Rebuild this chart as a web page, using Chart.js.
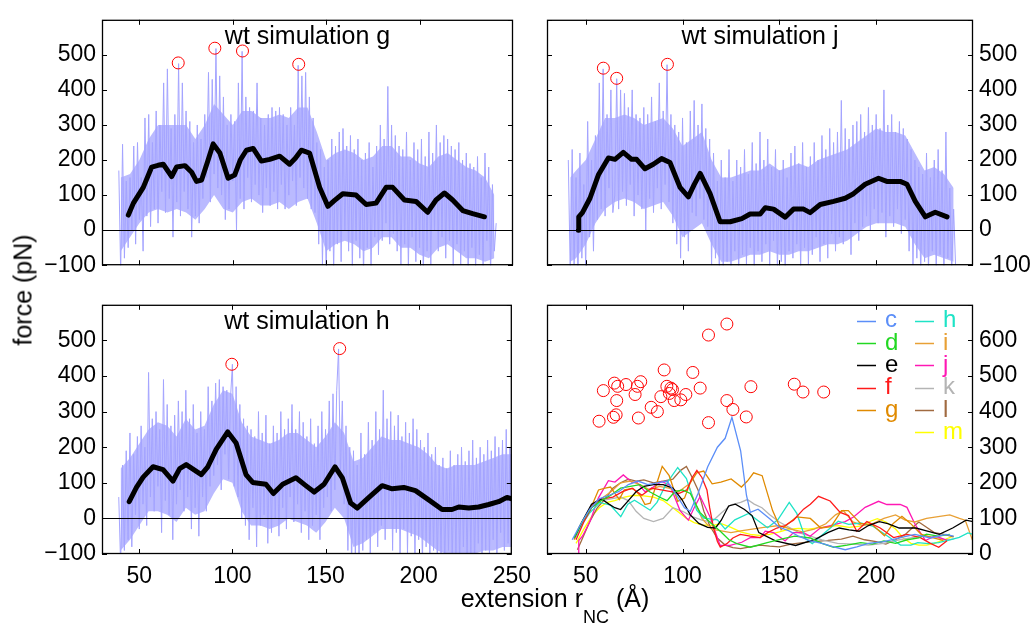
<!DOCTYPE html>
<html>
<head>
<meta charset="utf-8">
<script src="https://cdn.jsdelivr.net/npm/chart.js"></script>
<style>
  body { margin: 0; background: #fff; width: 1034px; height: 625px; position: relative; overflow: hidden;
         font-family: "Liberation Sans", Arial, sans-serif; color: #000; }
  canvas { position: absolute; }
  #ylab { position: absolute; left: 23px; top: 290px; transform: translate(-50%, -50%) rotate(-90deg);
          font-size: 25px; white-space: nowrap; line-height: 1; }
  #xlab { position: absolute; left: 555px; top: 586px; transform: translateX(-50%);
          font-size: 25px; white-space: nowrap; line-height: 25px; }
  #xlab span { font-size: 18px; position: relative; top: 16px; }
</style>
</head>
<body>
<canvas id="cG" width="530" height="285" style="left:0;top:0"></canvas>
<canvas id="cJ" width="504" height="285" style="left:530px;top:0"></canvas>
<canvas id="cH" width="540" height="315" style="left:0;top:285px"></canvas>
<canvas id="cAll" width="504" height="315" style="left:530px;top:285px"></canvas>
<div id="ylab">force (pN)</div>
<div id="xlab">extension r<span>NC</span> (Å)</div>
<script>
// raw force traces, one sample per Å of extension starting at the given value
const noiseGStart = 39;
const noiseG = [
  170, -120, 245, -80, 140, -50, 150, 0, 240, -40,
  250, 30, 150, -60, 320, 40, 330, 10, 250, 60,
  340, 20, 300, 110, 420, 50, 460, 90, 290, -20,
  330, 80, 475, 40, 420, 110, 340, 60, 310, -20,
  250, 40, 300, 20, 260, 90, 330, 150, 450, 80,
  430, 160, 518, 120, 440, 100, 380, 30, 300, 60,
  330, 140, 310, 0, 420, 90, 510, 60, 380, 150,
  350, 80, 340, 130, 420, 100, 320, 50, 300, 120,
  330, 70, 350, 110, 340, 60, 350, 130, 330, 60,
  300, 100, 350, 140, 300, 70, 470, 150, 440, 120,
  450, 90, 380, 60, 320, 50, 250, -40, 230, -100,
  180, -130, 200, -60, 260, -120, 240, -40, 280, -90,
  290, 0, 240, -60, 270, -110, 230, -30, 260, -80,
  200, -130, 220, -50, 250, -120, 180, -20, 240, -70,
  300, -30, 260, 20, 410, -40, 300, -10, 270, -60,
  240, -100, 230, -40, 280, -110, 200, -20, 250, -90,
  230, -50, 260, -130, 210, -60, 280, -100, 220, 0,
  300, -60, 250, -20, 270, -80, 260, -30, 240, -110,
  230, -40, 250, -100, 200, -60, 220, -130, 190, -50,
  180, -120, 210, -70, 150, -110, 220, -30, 180, -120,
  130, -60, 20
];

const noiseJStart = 41;
const noiseJ = [
  200, -120, 230, -100, 150, -130, 220, -80, 130, -110,
  310, -20, 200, -60, 270, 30, 420, 60, 460, 40,
  330, 120, 400, 50, 100, 432, 60, 400, 110, 390,
  70, 350, 130, 400, 40, 330, 100, 320, 60, 350,
  0, 330, 90, 380, 50, 310, 120, 420, 60, 340,
  130, 472, 80, 330, 20, 300, -40, 280, -80, 320,
  -20, 250, -60, 340, 50, 370, 40, 300, 90, 360,
  30, 290, 10, 260, -100, 220, -80, 140, -130, 200,
  -110, 150, -90, 230, -130, 140, -60, 200, -120, 180,
  -70, 230, -100, 160, -50, 250, -130, 190, -60, 280,
  -90, 200, -40, 260, -110, 180, -30, 230, -120, 170,
  -90, 200, -130, 150, -60, 220, -80, 240, -40, 190,
  -110, 250, -50, 180, -100, 210, -70, 250, -20, 200,
  -90, 270, -40, 230, -80, 290, -10, 250, -60, 280,
  -20, 370, -40, 290, 0, 260, -70, 300, 20, 310,
  -30, 330, 10, 280, 40, 350, 0, 300, 60, 330,
  20, 290, 50, 400, -20, 300, 40, 330, 10, 280,
  60, 310, -10, 290, 30, 260, -60, 230, -100, 200,
  -80, 180, -130, 160, -90, 220, -120, 150, -60, 200,
  -110, 230, -70, 170, -130, 280, -80, 120, -120, 60,
  -100
];

const noiseHStart = 39;
const noiseH = [
  60, -130, 150, -90, 190, -60, 240, -80, 180, 10,
  230, -30, 260, 40, 200, -20, 410, 60, 280, 20,
  300, 90, 250, -40, 390, 50, 320, 10, 260, -60,
  290, 40, 330, 80, 300, 20, 360, 60, 280, -30,
  320, 30, 240, -50, 300, 60, 250, 20, 370, 90,
  330, 120, 380, 150, 390, 80, 370, 180, 360, 110,
  340, 433, 90, 370, 60, 320, 0, 280, -20, 260,
  -60, 250, 30, 230, -80, 300, -20, 240, 10, 290,
  -70, 210, -40, 260, 0, 240, -50, 300, 30, 250,
  -30, 280, 60, 320, -10, 250, 40, 300, -40, 270,
  20, 230, -60, 280, -20, 210, 10, 260, -60, 300,
  30, 250, 60, 330, 20, 350, 80, 360, 476, 120,
  330, 40, 260, -90, 200, -130, 190, -110, 150, -120,
  240, -90, 180, -60, 270, -100, 220, -40, 300, -80,
  250, -20, 360, -60, 280, 0, 300, -90, 260, -40,
  290, -110, 230, -30, 270, -100, 240, -50, 280, -120,
  250, -60, 220, -130, 200, -80, 240, -120, 180, -90,
  200, -130, 150, -100, 170, -130, 140, -90, 190, -120,
  150, -100, 180, -130, 200, -80, 160, -120, 190, -100,
  220, -130, 170, -70, 200, -120, 180, -90, 220, -110,
  190, -60, 230, -100, 200, -40, 220, -90, 250, -70,
  200, -100
];

// dense core of each raw trace: [extension, low, high]
const bandG = [[40,-60,150],[45,-20,160],[50,20,200],[55,50,260],[60,60,300],[65,50,300],[70,60,300],[75,50,300],[80,30,260],
  [85,60,300],[90,100,360],[95,60,330],[100,50,300],[105,80,340],[110,90,340],[115,70,320],[120,70,320],[125,80,330],
  [130,60,320],[135,80,350],[140,90,350],[145,20,280],[150,-60,200],[155,-40,220],[160,-30,230],[165,-40,220],[170,-60,200],
  [175,-50,210],[180,-20,240],[185,-20,240],[190,-50,210],[195,-50,210],[200,-70,190],[205,-80,180],[210,-50,210],
  [215,-40,220],[220,-60,200],[225,-80,180],[230,-80,170],[235,-90,150],[240,-80,100]];
const bandJ = [[42,-90,150],[45,-80,170],[50,-40,200],[55,20,260],[60,60,320],[65,80,320],[70,90,330],[75,80,320],[80,60,300],
  [85,70,310],[90,80,320],[95,40,290],[100,-20,240],[105,0,260],[110,20,280],[115,-40,200],[120,-90,150],[125,-90,150],
  [130,-80,160],[135,-70,170],[140,-70,170],[145,-60,190],[150,-70,170],[155,-70,180],[160,-60,190],[165,-60,180],
  [170,-50,200],[175,-40,210],[180,-40,220],[185,-30,230],[190,-10,250],[195,10,270],[200,20,290],[205,20,280],
  [210,20,280],[215,10,270],[220,-40,220],[225,-80,170],[230,-70,180],[235,-80,160],[240,-90,120]];
const bandH = [[40,-90,140],[45,-60,170],[50,-20,210],[55,20,250],[60,20,270],[65,10,260],[70,-10,230],[75,30,280],[80,10,250],
  [85,20,260],[90,70,320],[95,110,360],[100,100,350],[105,20,270],[110,-20,230],[115,-20,220],[120,-30,210],[125,-20,220],
  [130,0,240],[135,-10,240],[140,-20,220],[145,-40,200],[150,-10,230],[155,30,270],[160,0,240],[165,-80,160],[170,-70,170],
  [175,-50,200],[180,-30,230],[185,-30,220],[190,-30,220],[195,-40,210],[200,-50,200],[205,-70,180],[210,-90,150],
  [215,-100,140],[220,-100,150],[225,-100,150],[230,-100,150],[235,-90,160],[240,-90,170],[245,-80,180],[250,-80,180]];

// running averages [extension, force]
const smoothG = [[44.1,43],[46.8,77],[52.1,122],[56.6,180],[60,185],[62.8,188],[67.3,153],[69.9,180],[74.4,184],[78,165],
  [80.6,139],[83.3,143],[86.5,195],[89.5,246],[93.1,220],[97.5,148],[101,157],[104,200],[107.3,228],[110.9,233],
  [115.3,197],[119.8,202],[125.1,211],[130.4,188],[133.5,205],[136.7,228],[141.1,220],[146.5,122],[150.9,68],[154.5,85],
  [158.9,104],[166,100],[171.4,73],[176.7,77],[182.1,122],[185.6,122],[191.9,86],[198.1,82],[204.3,51],[208.8,86],
  [213.3,106],[217.7,86],[223.1,56],[228.4,47],[234.7,38]];
const smoothJ = [[46.2,0],[46.4,38],[48.3,50],[52.2,91],[56.5,157],[61.7,206],[65.1,202],[69.4,222],[73.7,202],[76.3,202],
  [80.6,175],[84.9,188],[89.2,204],[93.5,193],[98.7,122],[103,95],[106,130],[109.1,162],[114.2,104],[119.4,24],
  [124.6,24],[130.6,33],[134.9,46],[140.1,46],[142.7,64],[147,60],[153,37],[157.3,60],[162.5,60],[165.9,50],
  [171.1,73],[178,82],[184,91],[188.3,104],[194.3,131],[201.2,148],[205.5,139],[212.4,139],[215.9,131],[220.2,82],
  [225.4,38],[230.5,51],[236.6,38]];
const smoothH = [[44.6,47],[48.5,87],[52.1,116],[57.4,145],[62.8,137],[68.1,105],[71.7,140],[75.2,151],[83.3,123],[86.8,145],
  [91.3,194],[97.5,243],[102,212],[107.3,123],[110.9,101],[118,96],[122,70],[127,96],[134.1,114],[139.4,92],
  [143.9,74],[149.2,96],[155.1,145],[159,114],[163.5,43],[167,29],[173.3,59],[180.4,92],[185.8,83],[192,87],
  [198.3,78],[205.4,52],[212.6,25],[217.9,25],[221.5,32],[226.9,29],[232.2,32],[237.6,39],[242.9,47],[247.4,59],
  [250,55]];

// other simulations (bottom right)
const curveC = [[43,40],[47,80],[52,125],[57,155],[62,165],[67,175],[72,195],[77,205],[82,195],[87,200],
  [92,205],[97,165],[101,130],[104,120],[108,170],[113,245],[118,300],[122,325],[125.5,384],[130,290],
  [133,165],[135,117],[139,126],[145,99],[150,75],[155,65],[160,50],[166,37],[172,30],[178,20],
  [184,12],[190,20],[196,30],[204,35],[212,45],[220,55],[228,45],[236,55],[240,50]];
const curveD = [[44,45],[48,90],[53,130],[58,150],[63,165],[68,185],[73,190],[78,195],[83,175],[88,160],
  [92,150],[96,175],[100,180],[104,170],[109,117],[114,90],[119.5,64],[124,40],[128,29],[135,19],
  [143.7,32],[152,43],[158,50],[166,45],[172,30],[178,19],[185,25],[192,32],[198,28],[204,37],
  [210,30],[216,40],[222,45],[226,56],[232,50],[238,55]];
const curveE = [[44,45],[48,90],[53,140],[58,155],[62,140],[65,130],[68,125],[72,150],[76,175],[80,190],
  [85,195],[90,195],[95,185],[99.7,153],[104,110],[108.4,86],[113,75],[117,73],[120,95],[123.8,135],
  [127.3,140],[132,125],[135.9,108],[139.4,60],[148,37],[158.4,24],[168.8,42],[175,60],[180.9,73],[186,68],
  [191.2,64],[196,80],[201.6,91],[206,85],[211.9,73],[220.5,73],[226,65],[232.6,55],[239.5,73],[246.4,95],
  [250,91]];
const curveF = [[45,40],[49,90],[54,140],[59,155],[64,160],[69,175],[74,185],[79,165],[84,185],[89,180],
  [94,175],[98,170],[102.2,180],[105,215],[107.4,235],[110,215],[112.6,180],[114,130],[116,73],[118,35],
  [119.5,19],[122.9,29],[126,45],[129.8,55],[135,50],[140.1,46],[144,60],[148.7,73],[153,80],[157.3,95],
  [162.5,126],[166,140],[170.2,162],[176.2,149],[181.4,117],[185.7,108],[190,64],[195.2,91],[202.1,73],[209,46],
  [215.9,55],[222.8,46],[228,30],[232.3,19],[236.6,37]];
const curveI = [[44,40],[48,85],[53,135],[58,155],[63,175],[68,200],[73,205],[78,195],[83,180],[88,190],
  [93,185],[98,175],[103,195],[106,150],[110,100],[115,70],[120,65],[125,60],[130,65],[136,70],
  [142,75],[150,80],[156,70],[162,62],[168,70],[174,85],[179,110],[183,122],[188,90],[193,80],
  [198,85],[204,100],[210,110],[215,95],[220,90],[226,100],[232,105],[238,110],[243,100],[246,95],
  [250,35]];
const curveK = [[44,40],[48,85],[53,130],[58,150],[63,155],[68,160],[72,150],[76,120],[80,100],[85,91],
  [90,100],[95,130],[100,120],[105,105],[110,95],[115,90],[120,115],[125,138],[130,145],[133.5,153],
  [137,140],[141,130],[145,110],[150,90],[155,75],[160,60],[166,50],[172,40],[180,30],[188,28],
  [196,25],[204,30],[212,40],[218,45],[224,50],[230,48],[236,40],[240,42]];
const curveL = [[45.7,12],[48,40],[52,90],[56,130],[60,155],[64,185],[68,200],[72,210],[76,205],[80,208],
  [85,200],[90,205],[95,210],[99,235],[102,246],[105,215],[108,180],[111,120],[114,80],[117.9,45],
  [122,25],[126,18],[130,15],[135,20],[140,25],[145,22],[150,20],[156,28],[162,32],[168,35],
  [175,38],[182,42],[188,50],[194,40],[200,35],[205,28],[210,40],[215,55],[219,75],[222,90],
  [226,75],[230,60],[235,55],[240,48]];
const curveM = [[45,30],[49,70],[53,105],[57,130],[61,145],[65,150],[70,160],[75,165],[80,163],[85,160],
  [90,150],[95,130],[98,117],[102,100],[106,88],[110,82],[115,80],[120,85],[125,75],[130,62],
  [135,55],[140,52],[145,55],[150,62],[155,70],[160,72],[165,70],[172,75],[180,80],[186,75],
  [192,78],[197,92],[200.6,99],[205,90],[210,70],[214,45],[218,30],[222,25],[226,25],[230,30],
  [235,40],[240,50]];

// rupture peaks (red circles)
const peaksG = [[70.8,477],[90.4,519],[105.2,511],[135.3,473]];
const peaksJ = [[59.1,462],[66.0,433],[92.2,473]];
const peaksH = [[99.7,433],[157.6,477]];
const peaksAll = [[56.9,373],[59.1,459],[64.3,384],[64.8,480],[65.7,391],[66.0,431],[66.5,471],[70.8,476],[75.5,448],[76.7,471],
  [77.2,382],[78.4,484],[83.8,412],[87,400],[88.8,442],[90.5,517],[91.9,471],[93.2,451],[94,466],[94.8,462],
  [95.7,431],[99.1,433],[101.7,448],[105.3,510],[109.1,466],[113.4,615],[113.4,369],[122.9,646],[122.9,431],[126,406],
  [132.9,385],[135.3,470],[157.7,477],[162.2,455],[172.9,455]];

const simNames = ['c', 'd', 'e', 'f', 'g', 'h', 'i', 'j', 'k', 'l', 'm'];
const simColors = ['#5b8ef8', '#22d822', '#000000', '#ff1a1a', '#e08a00', '#1ee3c6', '#e8a035', '#ff18b4', '#b4b4b4', '#a06a40', '#ffff00'];
const simCurves = [curveC, curveD, curveE, curveF, smoothG, smoothH, curveI, smoothJ, curveK, curveL, curveM];

const xTickMarks = [50, 100, 150, 200];
const wtTicks = [-100, 0, 100, 200, 300, 400, 500, 600];
const wtLabels = [-100, 0, 100, 200, 300, 400, 500];
const allTicks = [0, 100, 200, 300, 400, 500, 600, 700];
const allLabels = [0, 100, 200, 300, 400, 500, 600];

const FONT = '"Liberation Sans", Arial, sans-serif';
Chart.defaults.font.family = FONT;
Chart.defaults.color = '#000';

const pts = arr => arr.map(([x, y]) => ({ x, y }));
const samples = (start, arr) => arr.map((y, i) => ({ x: start + i, y }));

function traceSets(start, arr, band) {
  return [
    { data: band.map(b => ({ x: b[0], y: b[2] })), borderWidth: 0, pointRadius: 0, fill: '+1',
      backgroundColor: '#babaff', borderColor: 'rgba(0,0,0,0)', order: 4 },
    { data: band.map(b => ({ x: b[0], y: b[1] })), borderWidth: 0, pointRadius: 0, fill: false,
      borderColor: 'rgba(0,0,0,0)', order: 4 },
    { data: samples(start, arr), borderColor: '#a4a4ff', borderWidth: 1, pointRadius: 0, order: 3 }
  ];
}
function smoothSet(arr) {
  return { data: pts(arr), borderColor: '#000', borderWidth: 5, pointRadius: 0, borderJoinStyle: 'round', borderCapStyle: 'round', order: 2 };
}
function peakSet(arr) {
  return { data: pts(arr), showLine: false, pointStyle: 'circle', pointRadius: 6, pointBorderWidth: 1,
           pointBorderColor: '#ff0000', pointBackgroundColor: 'rgba(0,0,0,0)', order: 0 };
}

// box, inward ticks, zero line, title and legend
const framePlugin = {
  id: 'frame',
  afterDatasetsDraw(chart, args, opts) {
    const { ctx, chartArea: a } = chart;
    const xs = chart.scales.x, ys = chart.scales.y;
    ctx.save();
    ctx.strokeStyle = '#000';
    ctx.lineWidth = 1;
    ctx.beginPath();
    if (opts.zeroLine) {
      const p = Math.round(ys.getPixelForValue(0)) + 0.5;
      ctx.moveTo(a.left, p); ctx.lineTo(a.right, p);
    }
    opts.xMarks.forEach(v => {
      const p = Math.round(xs.getPixelForValue(v)) + 0.5;
      ctx.moveTo(p, a.top); ctx.lineTo(p, a.top + 5);
      ctx.moveTo(p, a.bottom); ctx.lineTo(p, a.bottom - 5);
    });
    opts.yMarks.forEach(v => {
      const p = Math.round(ys.getPixelForValue(v)) + 0.5;
      ctx.moveTo(a.left, p); ctx.lineTo(a.left + 5, p);
      ctx.moveTo(a.right, p); ctx.lineTo(a.right - 5, p);
    });
    ctx.stroke();
    ctx.lineWidth = 1.3;
    ctx.strokeRect(a.left + 0.5, a.top + 0.5, a.width - 1, a.height - 1);

    ctx.fillStyle = '#000';
    if (opts.title) {
      ctx.font = '25px ' + FONT;
      ctx.textAlign = 'center';
      ctx.textBaseline = 'middle';
      ctx.fillText(opts.title, (a.left + a.right) / 2, a.top + 17);
    }
    if (opts.legend) {
      ctx.font = '24px ' + FONT;
      ctx.textAlign = 'left';
      ctx.textBaseline = 'middle';
      ctx.lineWidth = 1.5;
      chart.data.datasets.filter(d => d.label).forEach((d, i) => {
        const col = i < 5 ? 0 : 1;
        const row = i < 5 ? i : i - 5;
        const lx = a.left + (col ? 368 : 310);
        const ly = a.top + 16 + row * 22.3;
        ctx.strokeStyle = d.borderColor;
        ctx.beginPath();
        ctx.moveTo(lx, Math.round(ly) + 0.5); ctx.lineTo(lx + 19, Math.round(ly) + 0.5);
        ctx.stroke();
        ctx.fillStyle = d.borderColor;
        ctx.fillText(d.label, lx + 28, ly);
      });
    }
    ctx.restore();
  }
};

const tickLabel = v => v < 0 ? '\u2212' + Math.abs(v) : String(v);

function panel(id, o) {
  return new Chart(document.getElementById(id), {
    type: 'line',
    data: { datasets: o.datasets },
    options: {
      responsive: false,
      animation: false,
      events: [],
      layout: { padding: o.padding },
      plugins: {
        legend: { display: false },
        tooltip: { enabled: false },
        frame: { title: o.title, zeroLine: o.zeroLine, xMarks: xTickMarks, yMarks: o.yMarks, legend: o.legend }
      },
      scales: {
        x: {
          type: 'linear', min: 30, max: 250,
          display: !!o.xLabels,
          grid: { display: false, drawTicks: false },
          border: { display: false },
          afterFit: s => { if (o.xLabels) s.height = 46; },
          afterBuildTicks: s => { s.ticks = (o.xLabels || []).map(v => ({ value: v })); },
          ticks: { font: { size: 23 }, color: '#000', padding: 9, maxRotation: 0, autoSkip: false }
        },
        y: {
          type: 'linear', position: o.yPos, min: o.yMin, max: o.yMax,
          grid: { display: false, drawTicks: false },
          border: { display: false },
          afterFit: s => { s.width = o.yWidth; },
          afterBuildTicks: s => { s.ticks = o.yLabels.map(v => ({ value: v })); },
          ticks: { font: { size: 23 }, color: '#000', padding: 6, autoSkip: false, callback: tickLabel }
        }
      }
    },
    plugins: [framePlugin]
  });
}

panel('cG', {
  title: 'wt simulation g', zeroLine: true,
  datasets: traceSets(noiseGStart, noiseG, bandG).concat([smoothSet(smoothG), peakSet(peaksG)]),
  padding: { left: 0, top: 13, right: 17, bottom: 9 },
  yPos: 'left', yWidth: 102, yMin: -100, yMax: 600, yMarks: wtTicks, yLabels: wtLabels
});

panel('cJ', {
  title: 'wt simulation j', zeroLine: true,
  datasets: traceSets(noiseJStart, noiseJ, bandJ).concat([smoothSet(smoothJ), peakSet(peaksJ)]),
  padding: { left: 17, top: 13, right: 0, bottom: 9 },
  yPos: 'right', yWidth: 61, yMin: -100, yMax: 600, yMarks: wtTicks, yLabels: wtLabels
});

panel('cH', {
  title: 'wt simulation h', zeroLine: true,
  datasets: traceSets(noiseHStart, noiseH, bandH).concat([smoothSet(smoothH), peakSet(peaksH)]),
  padding: { left: 0, top: 7, right: 27, bottom: 0 },
  xLabels: [50, 100, 150, 200, 250],
  yPos: 'left', yWidth: 102, yMin: -100, yMax: 600, yMarks: wtTicks, yLabels: wtLabels
});

panel('cAll', {
  legend: true,
  datasets: [peakSet(peaksAll)].concat(simCurves.map((c, i) => ({
    label: simNames[i], data: pts(c), borderColor: simColors[i], borderWidth: 1.3, pointRadius: 0, order: 1
  }))),
  padding: { left: 17, top: 7, right: 0, bottom: 0 },
  xLabels: [50, 100, 150, 200],
  yPos: 'right', yWidth: 61, yMin: 0, yMax: 700, yMarks: allTicks, yLabels: allLabels
});
</script>
</body>
</html>
